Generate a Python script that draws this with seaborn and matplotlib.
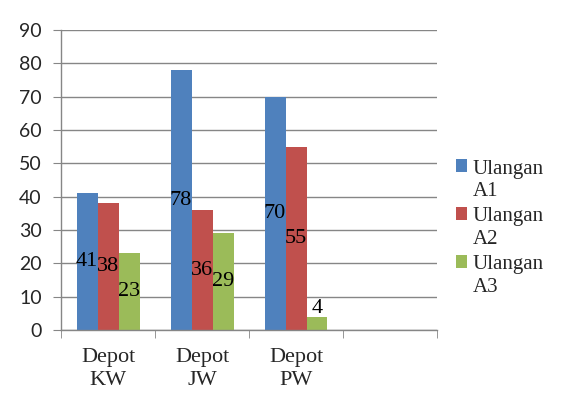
import pandas as pd
import seaborn as sns
import matplotlib.pyplot as plt
from matplotlib.ticker import FixedLocator

# data
depots = ['Depot\nKW', 'Depot\nJW', 'Depot\nPW']
series = ['Ulangan\nA1', 'Ulangan\nA2', 'Ulangan\nA3']
a1 = [41, 78, 70]
a2 = [38, 36, 55]
a3 = [23, 29, 4]
colors = ['#4F81BD', '#C0504D', '#9BBB59']

rows = []
for name, vals in zip(series, [a1, a2, a3]):
    for d, v in zip(depots, vals):
        rows.append({'depot': d, 'seri': name, 'nilai': v})
df = pd.DataFrame(rows)

sns.set_style('white')
plt.rcParams['font.family'] = ['Liberation Serif', 'DejaVu Serif']

fig = plt.figure(figsize=(5.66, 4.01), dpi=100)
ax = fig.add_axes([0.108, 0.177, 0.664, 0.748])

order = depots + ['']
sns.barplot(data=df, x='depot', y='nilai', hue='seri', order=order,
            hue_order=series, palette=colors, width=0.67, saturation=1,
            edgecolor='none', ax=ax, legend=True)

# label di tengah batang
for cont in ax.containers:
    for bar in cont:
        v = bar.get_height()
        xc = bar.get_x() + bar.get_width() / 2
        yc = v / 2 if v >= 10 else v + 2.6
        ax.text(xc, yc, f'{v:g}', ha='center', va='center', fontsize=16,
                color='black')

ax.set_ylim(0, 90)
ax.set_xlim(-0.5, 3.5)
ax.set_yticks(range(0, 91, 10))
ax.yaxis.grid(True, color='#868686', linewidth=1)
ax.set_axisbelow(True)
ax.tick_params(axis='y', labelsize=14, length=6, color='#868686', left=True, pad=8)
for lab in ax.get_yticklabels():
    lab.set_family('Lato')
ax.tick_params(axis='x', which='major', length=0, labelsize=16, pad=13)
ax.xaxis.set_minor_locator(FixedLocator([-0.5, 0.5, 1.5, 2.5, 3.5]))
ax.tick_params(axis='x', which='minor', length=6, color='#868686', bottom=True)
for lab in ax.get_xticklabels():
    lab.set_linespacing(1.3)
ax.set_xlabel('')
ax.set_ylabel('')
for s in ['top', 'right']:
    ax.spines[s].set_visible(False)
for s in ['left', 'bottom']:
    ax.spines[s].set_color('#868686')
    ax.spines[s].set_linewidth(1)

fs = 15
leg = ax.legend(loc='center left', bbox_to_anchor=(1.0, 0.34), frameon=False,
                fontsize=fs, handlelength=0.55, handleheight=0.55,
                handletextpad=0.25, labelspacing=0.3)
for t in leg.get_texts():
    t.set_ha('left')
    t.set_linespacing(1.25)
# kotak legenda sejajar baris pertama
for h in leg.legend_handles:
    h.set_y(h.get_y() + 0.68 * fs)

fig.savefig('out.png', dpi=100)
